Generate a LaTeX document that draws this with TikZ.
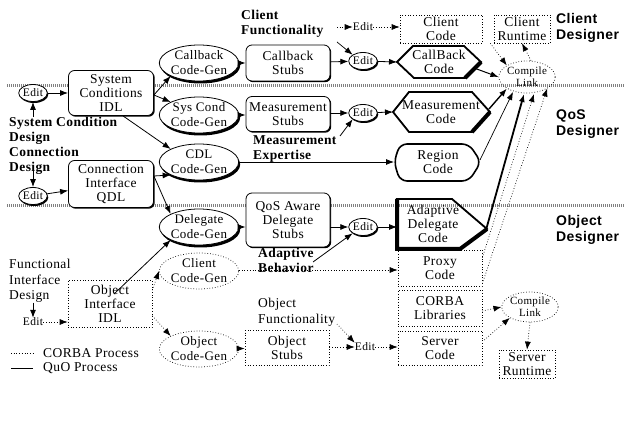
\documentclass[tikz,border=0pt]{standalone}
\usepackage{fontspec}
\setmainfont{Liberation Serif}[LetterSpace=3]
\newfontfamily\hsans{Liberation Sans}[LetterSpace=3]
\usetikzlibrary{arrows.meta,shapes.geometric,shadows}
\begin{document}
\begin{tikzpicture}[x=1pt,y=-1pt,
  every node/.style={font=\fontsize{13.5}{14}\selectfont, align=center, inner sep=0pt},
  arr/.style={-{Latex[length=8pt,width=6pt]}, line width=0.8pt},
  darr/.style={-{Latex[length=8pt,width=6pt]}, dotted, line width=0.7pt},
  box/.style={draw, fill=white, rounded corners=6pt, line width=0.8pt,
     drop shadow={shadow xshift=1.2pt, shadow yshift=-1.2pt, fill=black, opacity=1}},
  dbox/.style={draw, dotted, line width=0.7pt},
  gen/.style={ellipse, draw, fill=white, line width=0.8pt, minimum width=68pt, minimum height=36pt,
     font=\fontsize{13}{15}\selectfont,
     drop shadow={shadow xshift=1.5pt, shadow yshift=-2.5pt, fill=black, opacity=1}},
  dgen/.style={ellipse, draw, dotted, line width=0.7pt, minimum width=68pt, minimum height=36pt,
     font=\fontsize{13}{15}\selectfont},
  edit/.style={ellipse, draw, fill=white, line width=0.8pt, minimum width=24pt, minimum height=17pt,
     font=\fontsize{11.5}{11}\selectfont,
     drop shadow={shadow xshift=1pt, shadow yshift=-1.5pt, fill=black, opacity=1}},
  dedit/.style={font=\fontsize{11.5}{11}\selectfont},
  bld/.style={font=\fontsize{13.5}{15}\selectfont\bfseries, align=left},
  pln/.style={font=\fontsize{13.5}{15.5}\selectfont, align=left},
  lgd/.style={font=\fontsize{13.5}{14}\selectfont, anchor=west},
  role/.style={font=\hsans\fontsize{14}{16}\selectfont\bfseries, align=left},
  band/.style={gray, line width=3pt, dash pattern=on 1pt off 1pt}
]
\useasboundingbox (0,0) rectangle (625,422);
% separator bands
\draw[band] (7,86) -- (625,86);
\draw[band] (7,206) -- (625,206);

% ---- left column
\node[edit] (e1) at (33,93) {Edit};
\node[box, minimum width=85pt, minimum height=45pt] (sci) at (111,93) {System\\Conditions\\IDL};
\node[bld, anchor=north west] (scd) at (9,117) {System Condition\\Design};
\node[bld, anchor=north west] (cd) at (9,147) {Connection\\Design};
\node[edit] (e2) at (33,196) {Edit};
\node[box, minimum width=85pt, minimum height=47pt] (cqi) at (111,184) {Connection\\Interface\\QDL};
\node[pln, anchor=north west] (fid) at (9,259) {Functional\\Interface\\Design};
\node[dedit] (e3) at (33,322) {Edit};
\node[dbox, minimum width=84pt, minimum height=47pt] (oii) at (110,304) {Object\\Interface\\IDL};

% ---- code-gen column
\node[gen] (cbg) at (199,63) {Callback\\Code-Gen};
\node[gen] (scg) at (199,115) {Sys Cond\\Code-Gen};
\node[gen] (cdl) at (199,162) {CDL\\Code-Gen};
\node[gen] (dlg) at (199,227) {Delegate\\Code-Gen};
\node[dgen] (ccg) at (199,271) {Client\\Code-Gen};
\node[dgen] (ocg) at (199,349) {Object\\Code-Gen};

% ---- stubs column
\node[box, minimum width=84pt, minimum height=36pt] (cbs) at (288,63) {Callback\\Stubs};
\node[box, minimum width=84pt, minimum height=35pt] (mss) at (288,114) {Measurement\\Stubs};
\node[box, minimum width=84pt, minimum height=54pt] (qds) at (288,220) {QoS Aware\\Delegate\\Stubs};
\node[dbox, minimum width=84pt, minimum height=35pt] (obs) at (287,348) {Object\\Stubs};

\node[bld, anchor=north west] (cf) at (241,10) {Client\\Functionality};
\node[bld, anchor=north west] (me) at (253,135) {Measurement\\Expertise};
\node[bld, anchor=north west] (ab) at (258,248) {Adaptive\\Behavior};
\node[pln, anchor=north west] (of) at (258,298) {Object\\Functionality};

% ---- edit column
\coordinate (e0s) at (337,27);
\node[dedit] (e0) at (363,27) {Edit};
\node[edit] (e4) at (363,61) {Edit};
\node[edit] (e5) at (363,113) {Edit};
\node[edit] (e6) at (363,227) {Edit};
\node[dedit] (e7) at (365,347) {Edit};

% ---- code column
\node[dbox, minimum width=82pt, minimum height=28pt] (cc) at (441,29) {Client\\Code};
\node[dbox, minimum width=56pt, minimum height=28pt] (cr) at (522,29) {Client\\Runtime};
% CallBack Code hexagon
\draw[line width=1.8pt, line join=miter] (397,62) -- (413,46) -- (464,46) -- (481,62) -- (465,78) -- (414,78) -- cycle;
\draw[line width=4pt] (481,62) -- (465,78);
\node (cbc) at (439,62) {CallBack\\Code};
% Measurement Code hexagon
\draw[line width=1.8pt] (393,112) -- (409,92) -- (472,92) -- (490,112) -- (472,132) -- (409,132) -- cycle;
\draw[line width=4pt] (490,112) -- (472,132);
\node (mc) at (441,112) {Measurement\\Code};
% Region Code
\draw[line width=1.6pt, rounded corners=7pt] (400,144) -- (469,144) -- (481,162) -- (469,181) -- (400,181) -- (394,162) -- cycle;
\node (rc) at (438,162) {Region\\Code};
% Adaptive Delegate Code
\draw[line width=1.8pt] (397,199) -- (452,199) -- (487,229) -- (460,249) -- (397,249) -- cycle;
\draw[line width=4pt] (487,229) -- (460,249) -- (397,249) -- (397,199);
\node (adc) at (433,224) {Adaptive\\Delegate\\Code};
\node[dbox, minimum width=84pt, minimum height=36pt] (pc) at (440,268) {Proxy\\Code};
\node[dbox, minimum width=84pt, minimum height=36pt] (cl) at (440,308) {CORBA\\Libraries};
\node[dbox, minimum width=84pt, minimum height=34pt] (sc) at (440,348) {Server\\Code};

% compile/link
\node[ellipse, draw, dotted, line width=0.7pt, minimum width=48pt, minimum height=32pt, font=\fontsize{11}{12}\selectfont] (cl1) at (527,77) {Compile\\Link};
\node[ellipse, draw, dotted, line width=0.7pt, minimum width=50pt, minimum height=30pt, font=\fontsize{11}{12}\selectfont] (cl2) at (530,307) {Compile\\Link};
\node[dbox, minimum width=56pt, minimum height=28pt] (sr) at (527,364) {Server\\Runtime};

% roles
\node[role, anchor=north west] (r1) at (556,13) {Client\\Designer};
\node[role, anchor=north west] (r2) at (556,110) {QoS\\Designer};
\node[role, anchor=north west] (r3) at (556,215) {Object\\Designer};

% legend
\node[lgd] (lg1) at (43,353) {CORBA Process};
\node[lgd] (lg2) at (43,368) {QuO Process};
\coordinate (l1a) at (11,353); \coordinate (l1b) at (33,353);
\coordinate (l2a) at (11,368); \coordinate (l2b) at (33,368);
\draw[dotted, line width=0.7pt] (l1a) -- (l1b);
\draw[line width=0.8pt] (l2a) -- (l2b);

% ---- connectors, left
\draw[arr] (scd.north -| e1.south) -- (e1.south);
\draw[arr] (e1) -- (sci);
\draw[arr] (cd.south -| e2.north) ++(0,-9) -- (e2.north);
\draw[arr] (e2) -- (cqi);
\draw[arr] (fid.south -| e3.north) -- (e3.north);
\draw[darr] (e3) -- (oii.west |- e3);
\draw[arr] (sci.east) ++(0,2) -- (cbg.south west);
\draw[arr] (sci.east) ++(0,2) -- (scg.north west) ;
\draw[arr] (sci.south) ++(12,0) -- (cdl.north west);
\draw[arr] (cqi.east) ++(0,-8) -- (cdl.south west);
\draw[arr] (cqi.east) ++(0,-8) -- (dlg.north west);
\draw[line width=0.8pt, -{Latex[length=8pt,width=6pt]}] (oii.center) ++(4,-10) -- (dlg.south west);
\draw[darr] (oii.north east) ++(0,10) -- (ccg.west);
\draw[darr] (oii.south east) ++(0,-12) -- (ocg.north west);

% ---- code-gen to stubs
\draw[arr] (cbg) -- (cbs);
\draw[arr] (scg) -- (mss.west |- scg);
\draw[arr] (dlg) -- (qds.west |- dlg);
\draw[darr] (ocg) -- (obs);
\draw[darr] (ccg.east) ++(0,-1) -- (pc.west |- 0,270);

% ---- stubs to edit to code
\draw[arr] (cbs) -- (e4);
\draw[arr] (e4) -- (397,62);
\draw[arr] (mss.east |- e5) -- (e5);
\draw[arr] (e5) -- (393,112);
\draw[arr] (qds.east |- e6) -- (e6);
\draw[arr] (e6) -- (397,227);
\draw[darr] (obs.east |- e7) -- (e7);
\draw[darr] (e7) -- (sc.west |- e7);
\draw[arr] (cdl.east) -- (394,162);
\draw[darr] (e0s) -- (e0);
\draw[darr] (e0) -- (cc.west |- e0);
\draw[line width=0.7pt, -{Latex[length=8pt,width=6pt]}] (337,42) -- (e4.north west);
\draw[arr] (340,136) -- (e5.south west);
\draw[arr] (313,262) -- (e6.south west);
\draw[darr] (337,324) -- (e7.north west);

% ---- into compile/link (top)
\draw[darr] (cc.south east) ++(8,0) -- (cl1.north west);
\draw[line width=1pt, -{Latex[length=8pt,width=6pt]}] (474,68) -- (cl1.west);
\draw[line width=1.4pt, -{Latex[length=8pt,width=6pt]}] (489,109) -- (cl1.south west);
\draw[line width=0.7pt, -{Latex[length=8pt,width=6pt]}] (480,160) -- (513,92);
\draw[line width=1.8pt, -{Latex[length=8pt,width=6pt]}] (486,230) -- (524,94);
\draw[darr] (pc.north east) ++(0,8) -- (534,94);
\draw[darr] (cl.north east) ++(0,-6) -- (cl1.south east);
\draw[darr] (cl1.north) ++(4,0) -- (cr.south);

% ---- into compile/link (bottom)
\draw[darr] (cl.east) ++(0,3) -- (cl2.west);
\draw[darr] (sc.east) ++(2,-8) -- (cl2.south west);
\draw[darr] (cl2.south) -- (sr.north);
\end{tikzpicture}
\end{document}
